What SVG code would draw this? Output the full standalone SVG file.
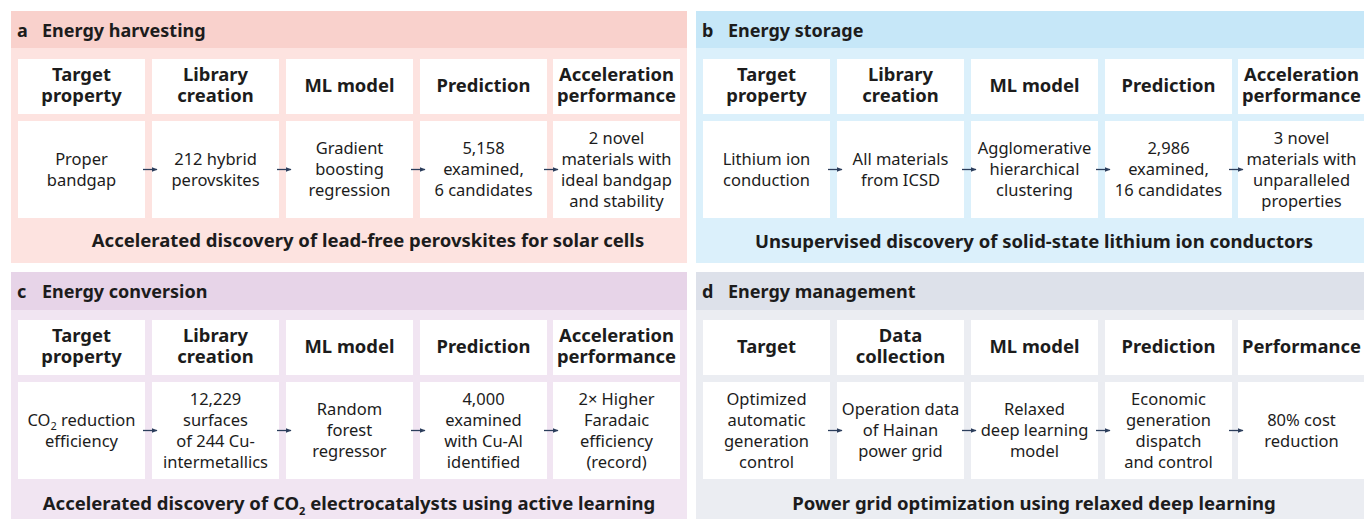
<svg xmlns="http://www.w3.org/2000/svg" width="1364" height="519" viewBox="0 0 1364 519">
<defs>
<marker id="ah" viewBox="0 0 10 10" refX="9" refY="5" markerWidth="6" markerHeight="6" markerUnits="userSpaceOnUse" orient="auto">
<path d="M0,1 L10,5 L0,9 z" fill="#2c3e5c"/>
</marker>
</defs>
<style>
text{font-family:"Noto Sans","Liberation Sans",sans-serif;fill:#1c1c1c;text-anchor:middle}
.t{font-weight:700;font-size:18px;text-anchor:start}
.h{font-weight:700;font-size:18.4px}
.c{font-weight:400;font-size:16.5px}
.cap{font-weight:700;font-size:18.5px}
.box{fill:#ffffff}
.arr{stroke:#2c3e5c;stroke-width:1.3;fill:none;marker-end:url(#ah)}
</style>
<rect width="1364" height="519" fill="#ffffff"/>

<!-- Panel a -->
<g id="panel-a">
<rect x="11" y="11" width="676" height="252" fill="#fde3e0"/>
<rect x="11" y="11" width="676" height="37" fill="#f9d1cc"/>
<text class="t" x="17" y="37">a</text>
<text class="t" x="42" y="37">Energy harvesting</text>
<text class="cap" x="368" y="247">Accelerated discovery of lead-free perovskites for solar cells</text>
</g>
<g id="a-h1"><rect class="box" x="18" y="59" width="127" height="55"/><text class="h"><tspan x="81.5" y="81">Target</tspan><tspan x="81.5" y="102">property</tspan></text></g>
<g id="a-h2"><rect class="box" x="152" y="59" width="127" height="55"/><text class="h"><tspan x="215.5" y="81">Library</tspan><tspan x="215.5" y="102">creation</tspan></text></g>
<g id="a-h3"><rect class="box" x="286" y="59" width="127" height="55"/><text class="h" x="349.5" y="92">ML model</text></g>
<g id="a-h4"><rect class="box" x="420" y="59" width="127" height="55"/><text class="h" x="483.5" y="92">Prediction</text></g>
<g id="a-h5"><rect class="box" x="553" y="59" width="127" height="55"/><text class="h"><tspan x="616.5" y="81">Acceleration</tspan><tspan x="616.5" y="102">performance</tspan></text></g>
<g id="a-c1"><rect class="box" x="18" y="121" width="127" height="97"/><text class="c"><tspan x="81.5" y="164.5">Proper</tspan><tspan x="81.5" y="185.5">bandgap</tspan></text></g>
<g id="a-c2"><rect class="box" x="152" y="121" width="127" height="97"/><text class="c"><tspan x="215.5" y="164.5">212 hybrid</tspan><tspan x="215.5" y="185.5">perovskites</tspan></text></g>
<g id="a-c3"><rect class="box" x="286" y="121" width="127" height="97"/><text class="c"><tspan x="349.5" y="154">Gradient</tspan><tspan x="349.5" y="175">boosting</tspan><tspan x="349.5" y="196">regression</tspan></text></g>
<g id="a-c4"><rect class="box" x="420" y="121" width="127" height="97"/><text class="c"><tspan x="483.5" y="154">5,158</tspan><tspan x="483.5" y="175">examined,</tspan><tspan x="483.5" y="196">6 candidates</tspan></text></g>
<g id="a-c5"><rect class="box" x="553" y="121" width="127" height="97"/><text class="c"><tspan x="616.5" y="143.5">2 novel</tspan><tspan x="616.5" y="164.5">materials with</tspan><tspan x="616.5" y="185.5">ideal bandgap</tspan><tspan x="616.5" y="206.5">and stability</tspan></text></g>

<!-- Panel b -->
<g id="panel-b">
<rect x="696" y="11" width="676" height="252" fill="#dbf0fb"/>
<rect x="696" y="11" width="676" height="37" fill="#c6e7f8"/>
<text class="t" x="702" y="37">b</text>
<text class="t" x="728" y="37">Energy storage</text>
<text class="cap" x="1034" y="248">Unsupervised discovery of solid-state lithium ion conductors</text>
</g>
<g id="b-h1"><rect class="box" x="703" y="59" width="127" height="55"/><text class="h"><tspan x="766.5" y="81">Target</tspan><tspan x="766.5" y="102">property</tspan></text></g>
<g id="b-h2"><rect class="box" x="837" y="59" width="127" height="55"/><text class="h"><tspan x="900.5" y="81">Library</tspan><tspan x="900.5" y="102">creation</tspan></text></g>
<g id="b-h3"><rect class="box" x="971" y="59" width="127" height="55"/><text class="h" x="1034.5" y="92">ML model</text></g>
<g id="b-h4"><rect class="box" x="1105" y="59" width="127" height="55"/><text class="h" x="1168.5" y="92">Prediction</text></g>
<g id="b-h5"><rect class="box" x="1238" y="59" width="127" height="55"/><text class="h"><tspan x="1301.5" y="81">Acceleration</tspan><tspan x="1301.5" y="102">performance</tspan></text></g>
<g id="b-c1"><rect class="box" x="703" y="121" width="127" height="97"/><text class="c"><tspan x="766.5" y="164.5">Lithium ion</tspan><tspan x="766.5" y="185.5">conduction</tspan></text></g>
<g id="b-c2"><rect class="box" x="837" y="121" width="127" height="97"/><text class="c"><tspan x="900.5" y="164.5">All materials</tspan><tspan x="900.5" y="185.5">from ICSD</tspan></text></g>
<g id="b-c3"><rect class="box" x="971" y="121" width="127" height="97"/><text class="c"><tspan x="1034.5" y="154">Agglomerative</tspan><tspan x="1034.5" y="175">hierarchical</tspan><tspan x="1034.5" y="196">clustering</tspan></text></g>
<g id="b-c4"><rect class="box" x="1105" y="121" width="127" height="97"/><text class="c"><tspan x="1168.5" y="154">2,986</tspan><tspan x="1168.5" y="175">examined,</tspan><tspan x="1168.5" y="196">16 candidates</tspan></text></g>
<g id="b-c5"><rect class="box" x="1238" y="121" width="127" height="97"/><text class="c"><tspan x="1301.5" y="143.5">3 novel</tspan><tspan x="1301.5" y="164.5">materials with</tspan><tspan x="1301.5" y="185.5">unparalleled</tspan><tspan x="1301.5" y="206.5">properties</tspan></text></g>

<!-- Panel c -->
<g id="panel-c">
<rect x="11" y="272" width="676" height="260" fill="#f1e5f2"/>
<rect x="11" y="272" width="676" height="38" fill="#e7d4e8"/>
<text class="t" x="17" y="298">c</text>
<text class="t" x="42" y="298">Energy conversion</text>
<text class="cap" x="349" y="510">Accelerated discovery of CO<tspan dy="5" font-size="11">2</tspan><tspan dy="-5"> electrocatalysts using active learning</tspan></text>
</g>
<g id="c-h1"><rect class="box" x="18" y="320" width="127" height="55"/><text class="h"><tspan x="81.5" y="342">Target</tspan><tspan x="81.5" y="363">property</tspan></text></g>
<g id="c-h2"><rect class="box" x="152" y="320" width="127" height="55"/><text class="h"><tspan x="215.5" y="342">Library</tspan><tspan x="215.5" y="363">creation</tspan></text></g>
<g id="c-h3"><rect class="box" x="286" y="320" width="127" height="55"/><text class="h" x="349.5" y="353">ML model</text></g>
<g id="c-h4"><rect class="box" x="420" y="320" width="127" height="55"/><text class="h" x="483.5" y="353">Prediction</text></g>
<g id="c-h5"><rect class="box" x="553" y="320" width="127" height="55"/><text class="h"><tspan x="616.5" y="342">Acceleration</tspan><tspan x="616.5" y="363">performance</tspan></text></g>
<g id="c-c1"><rect class="box" x="18" y="382" width="127" height="97"/><text class="c"><tspan x="81.5" y="425.5">CO<tspan dy="4" font-size="11">2</tspan><tspan dy="-4"> reduction</tspan></tspan><tspan x="81.5" y="446.5">efficiency</tspan></text></g>
<g id="c-c2"><rect class="box" x="152" y="382" width="127" height="97"/><text class="c"><tspan x="215.5" y="404.5">12,229</tspan><tspan x="215.5" y="425.5">surfaces</tspan><tspan x="215.5" y="446.5">of 244 Cu-</tspan><tspan x="215.5" y="467.5">intermetallics</tspan></text></g>
<g id="c-c3"><rect class="box" x="286" y="382" width="127" height="97"/><text class="c"><tspan x="349.5" y="415">Random</tspan><tspan x="349.5" y="436">forest</tspan><tspan x="349.5" y="457">regressor</tspan></text></g>
<g id="c-c4"><rect class="box" x="420" y="382" width="127" height="97"/><text class="c"><tspan x="483.5" y="404.5">4,000</tspan><tspan x="483.5" y="425.5">examined</tspan><tspan x="483.5" y="446.5">with Cu-Al</tspan><tspan x="483.5" y="467.5">identified</tspan></text></g>
<g id="c-c5"><rect class="box" x="553" y="382" width="127" height="97"/><text class="c"><tspan x="616.5" y="404.5">2× Higher</tspan><tspan x="616.5" y="425.5">Faradaic</tspan><tspan x="616.5" y="446.5">efficiency</tspan><tspan x="616.5" y="467.5">(record)</tspan></text></g>

<!-- Panel d -->
<g id="panel-d">
<rect x="696" y="272" width="676" height="260" fill="#ebedf2"/>
<rect x="696" y="272" width="676" height="38" fill="#dde1ea"/>
<text class="t" x="702" y="298">d</text>
<text class="t" x="728" y="298">Energy management</text>
<text class="cap" x="1034" y="510">Power grid optimization using relaxed deep learning</text>
</g>
<g id="d-h1"><rect class="box" x="703" y="320" width="127" height="55"/><text class="h" x="766.5" y="353">Target</text></g>
<g id="d-h2"><rect class="box" x="837" y="320" width="127" height="55"/><text class="h"><tspan x="900.5" y="342">Data</tspan><tspan x="900.5" y="363">collection</tspan></text></g>
<g id="d-h3"><rect class="box" x="971" y="320" width="127" height="55"/><text class="h" x="1034.5" y="353">ML model</text></g>
<g id="d-h4"><rect class="box" x="1105" y="320" width="127" height="55"/><text class="h" x="1168.5" y="353">Prediction</text></g>
<g id="d-h5"><rect class="box" x="1238" y="320" width="127" height="55"/><text class="h" x="1301.5" y="353">Performance</text></g>
<g id="d-c1"><rect class="box" x="703" y="382" width="127" height="97"/><text class="c"><tspan x="766.5" y="404.5">Optimized</tspan><tspan x="766.5" y="425.5">automatic</tspan><tspan x="766.5" y="446.5">generation</tspan><tspan x="766.5" y="467.5">control</tspan></text></g>
<g id="d-c2"><rect class="box" x="837" y="382" width="127" height="97"/><text class="c"><tspan x="900.5" y="415">Operation data</tspan><tspan x="900.5" y="436">of Hainan</tspan><tspan x="900.5" y="457">power grid</tspan></text></g>
<g id="d-c3"><rect class="box" x="971" y="382" width="127" height="97"/><text class="c"><tspan x="1034.5" y="415">Relaxed</tspan><tspan x="1034.5" y="436">deep learning</tspan><tspan x="1034.5" y="457">model</tspan></text></g>
<g id="d-c4"><rect class="box" x="1105" y="382" width="127" height="97"/><text class="c"><tspan x="1168.5" y="404.5">Economic</tspan><tspan x="1168.5" y="425.5">generation</tspan><tspan x="1168.5" y="446.5">dispatch</tspan><tspan x="1168.5" y="467.5">and control</tspan></text></g>
<g id="d-c5"><rect class="box" x="1238" y="382" width="127" height="97"/><text class="c"><tspan x="1301.5" y="425.5">80% cost</tspan><tspan x="1301.5" y="446.5">reduction</tspan></text></g>

<!-- Connectors -->
<g id="connectors">
<line class="arr" x1="143" y1="169.5" x2="157" y2="169.5"/>
<line class="arr" x1="277" y1="169.5" x2="291" y2="169.5"/>
<line class="arr" x1="411" y1="169.5" x2="425" y2="169.5"/>
<line class="arr" x1="544" y1="169.5" x2="558" y2="169.5"/>
<line class="arr" x1="828" y1="169.5" x2="842" y2="169.5"/>
<line class="arr" x1="962" y1="169.5" x2="976" y2="169.5"/>
<line class="arr" x1="1096" y1="169.5" x2="1110" y2="169.5"/>
<line class="arr" x1="1229" y1="169.5" x2="1243" y2="169.5"/>
<line class="arr" x1="143" y1="430.5" x2="157" y2="430.5"/>
<line class="arr" x1="277" y1="430.5" x2="291" y2="430.5"/>
<line class="arr" x1="411" y1="430.5" x2="425" y2="430.5"/>
<line class="arr" x1="544" y1="430.5" x2="558" y2="430.5"/>
<line class="arr" x1="828" y1="430.5" x2="842" y2="430.5"/>
<line class="arr" x1="962" y1="430.5" x2="976" y2="430.5"/>
<line class="arr" x1="1096" y1="430.5" x2="1110" y2="430.5"/>
<line class="arr" x1="1229" y1="430.5" x2="1243" y2="430.5"/>
</g>
</svg>
